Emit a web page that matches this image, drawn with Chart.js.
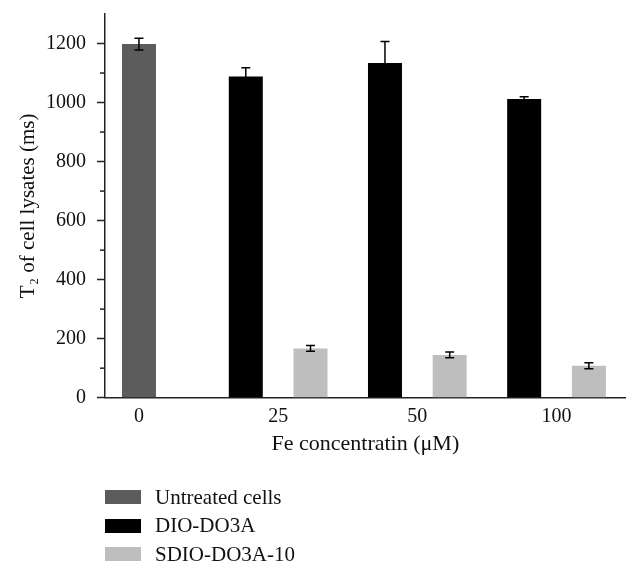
<!DOCTYPE html>
<html>
<head>
<meta charset="utf-8">
<script src="https://cdn.jsdelivr.net/npm/chart.js@4/dist/chart.umd.min.js"></script>
<style>
  html, body { margin: 0; padding: 0; background: #fff; }
  #wrap { position: relative; width: 640px; height: 568px; }
  #legend { position: absolute; left: 105px; top: 483px; font: 21px "Liberation Serif", serif; color: #111; }
  .leg-item { display: flex; align-items: center; height: 28.5px; }
  .leg-box { width: 36px; height: 14px; margin-right: 14px; }
</style>
</head>
<body>
<div id="wrap">
  <canvas id="chart"></canvas>
  <div id="legend"></div>
</div>
<script>
// data
const fePositions = [0, 1, 2, 3];
const feLabels = ['0', '25', '50', '100'];
const untreated = [1198, null, null, null];
const untreatedErr = [20, null, null, null];
const dio = [null, 1088, 1134, 1012];
const dioErr = [null, 30, 73, 8];
const sdio = [null, 167, 145, 108];
const sdioErr = [null, 10, 10, 10];
const yTicks = [0, 200, 400, 600, 800, 1000, 1200];
const yMinorTicks = [100, 300, 500, 700, 900, 1100];

const serif = '"Liberation Serif", serif';
const axisColor = '#222';

// error bars + minor ticks
const extras = {
  id: 'extras',
  afterDatasetsDraw(chart) {
    const ctx = chart.ctx;
    const y = chart.scales.y;
    ctx.save();
    ctx.strokeStyle = '#000';
    ctx.lineWidth = 1.5;
    chart.data.datasets.forEach((ds, di) => {
      const meta = chart.getDatasetMeta(di);
      ds.errors.forEach((e, i) => {
        if (e == null || ds.data[i] == null) return;
        const bar = meta.data[i];
        const hi = y.getPixelForValue(ds.data[i] + e);
        const lo = y.getPixelForValue(ds.data[i] - e);
        ctx.beginPath();
        ctx.moveTo(bar.x, hi); ctx.lineTo(bar.x, lo);
        ctx.moveTo(bar.x - 4.5, hi); ctx.lineTo(bar.x + 4.5, hi);
        ctx.moveTo(bar.x - 4.5, lo); ctx.lineTo(bar.x + 4.5, lo);
        ctx.stroke();
      });
    });
    // minor ticks on y axis
    ctx.strokeStyle = axisColor;
    yMinorTicks.forEach(v => {
      const py = y.getPixelForValue(v);
      ctx.beginPath();
      ctx.moveTo(y.right - 5, py); ctx.lineTo(y.right, py);
      ctx.stroke();
    });
    ctx.restore();
  }
};

const htmlLegend = {
  id: 'htmlLegend',
  afterUpdate(chart) {
    const box = document.getElementById('legend');
    box.innerHTML = '';
    const items = chart.options.plugins.legend.labels.generateLabels(chart);
    items.forEach(item => {
      const row = document.createElement('div');
      row.className = 'leg-item';
      const sw = document.createElement('span');
      sw.className = 'leg-box';
      sw.style.background = item.fillStyle;
      const txt = document.createElement('span');
      txt.textContent = item.text;
      row.appendChild(sw);
      row.appendChild(txt);
      box.appendChild(row);
    });
  }
};

new Chart(document.getElementById('chart'), {
  type: 'bar',
  data: {
    labels: fePositions,
    datasets: [
      { label: 'Untreated cells', data: untreated, errors: untreatedErr, backgroundColor: '#5c5c5c' },
      { label: 'DIO-DO3A', data: dio, errors: dioErr, backgroundColor: '#000000' },
      { label: 'SDIO-DO3A-10', data: sdio, errors: sdioErr, backgroundColor: '#bebebe' }
    ]
  },
  options: {
    responsive: true,
    maintainAspectRatio: false,
    animation: false,
    layout: { padding: { top: 14, right: 14.3, left: 0, bottom: 110.3 } },
    datasets: {
      bar: { skipNull: true, categoryPercentage: 0.93, barPercentage: 0.53, maxBarThickness: 34 }
    },
    plugins: {
      legend: { display: false },
      tooltip: { enabled: false }
    },
    scales: {
      x: {
        type: 'linear',
        offset: false,
        min: -0.244,
        max: 3.497,
        afterBuildTicks: (s) => { s.ticks = fePositions.map(v => ({ value: v })); },
        afterFit: (s) => { s.height = 60; },
        grid: { display: false },
        border: { display: true, color: axisColor, width: 1.5 },
        ticks: {
          color: '#111',
          font: { family: serif, size: 20 },
          padding: -1,
          callback: (v, i) => feLabels[i]
        },
        title: {
          display: true,
          text: 'Fe concentratin (μM)',
          color: '#111',
          font: { family: serif, size: 22 },
          padding: { top: 0, bottom: 0 }
        }
      },
      y: {
        min: 0,
        max: 1300,
        afterBuildTicks: (s) => { s.ticks = yTicks.map(v => ({ value: v })); },
        afterFit: (s) => { s.width = 105; s.paddingTop = 0; s.paddingBottom = 0; },
        grid: { display: true, drawOnChartArea: false, drawTicks: true, tickLength: 8, tickColor: axisColor, tickWidth: 1.5 },
        border: { display: true, color: axisColor, width: 1.5 },
        ticks: {
          color: '#111',
          font: { family: serif, size: 20 },
          padding: 11,
          callback: (v) => String(v)
        },
        title: {
          display: true,
          text: 'T₂ of cell lysates (ms)',
          color: '#111',
          font: { family: serif, size: 21 },
          padding: { top: 16, bottom: 0 }
        }
      }
    }
  },
  plugins: [extras, htmlLegend]
});
</script>
</body>
</html>
